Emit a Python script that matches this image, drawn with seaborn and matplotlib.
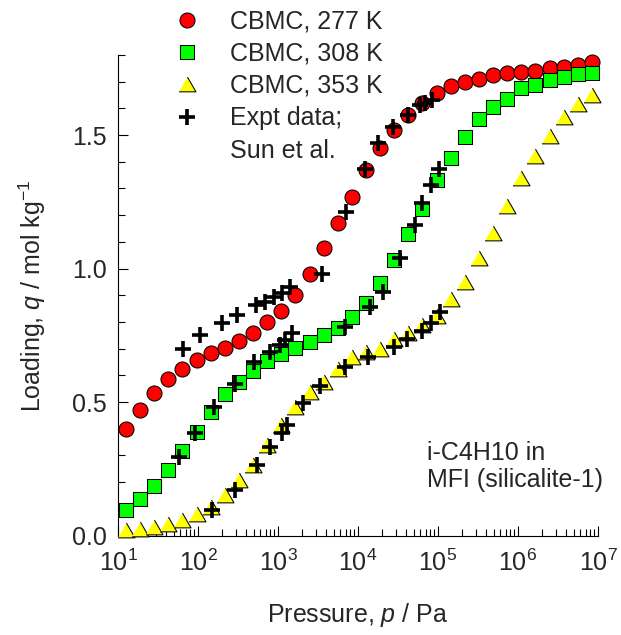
import matplotlib
matplotlib.use("Agg")
import matplotlib.pyplot as plt
from matplotlib.lines import Line2D
from matplotlib.ticker import LogLocator, MultipleLocator, FormatStrFormatter, NullFormatter
import pandas as pd
import seaborn as sns

# CBMC simulation pressures (Pa), shared by all three temperatures
pressure_cbmc = [12.6, 18.9, 28.4, 42.6, 64.0, 96.0, 144, 217, 325, 488, 733,
                 1100, 1650, 2480, 3720, 5590, 8400, 12600, 18900, 28400,
                 42700, 64000, 96200, 144000, 217000, 325000, 489000, 734000,
                 1.10e6, 1.65e6, 2.48e6, 3.73e6, 5.60e6, 8.40e6]

# CBMC loadings (mol/kg)
q_277 = [0.400, 0.472, 0.533, 0.585, 0.622, 0.656, 0.682, 0.704, 0.727, 0.760,
         0.799, 0.842, 0.902, 0.980, 1.077, 1.170, 1.268, 1.369, 1.450, 1.519,
         1.575, 1.619, 1.658, 1.685, 1.700, 1.710, 1.725, 1.731, 1.737, 1.741,
         1.750, 1.756, 1.762, 1.775]
q_308 = [0.096, 0.137, 0.185, 0.245, 0.317, 0.389, 0.463, 0.530, 0.576, 0.618,
         0.653, 0.679, 0.704, 0.723, 0.751, 0.776, 0.819, 0.870, 0.945, 1.032,
         1.129, 1.224, 1.331, 1.414, 1.494, 1.560, 1.606, 1.637, 1.675, 1.687,
         1.706, 1.718, 1.727, 1.731]
q_353 = [0.020, 0.025, 0.031, 0.044, 0.059, 0.079, 0.108, 0.152, 0.207, 0.265,
         0.339, 0.414, 0.482, 0.539, 0.576, 0.625, 0.670, 0.688, 0.700, 0.735,
         0.757, 0.788, 0.823, 0.886, 0.948, 1.038, 1.135, 1.235, 1.338, 1.421,
         1.497, 1.566, 1.616, 1.650]

# Experimental isotherms (Sun et al.)
p_expt_277 = [65.5, 106, 201, 305, 531, 688, 891, 1112, 1413, 3518, 7080,
              12235, 17940, 27620, 42540, 59570, 68790, 83370]
q_expt_277 = [0.697, 0.751, 0.795, 0.826, 0.863, 0.876, 0.892, 0.909, 0.932,
              0.979, 1.210, 1.372, 1.469, 1.531, 1.575, 1.612, 1.619, 1.631]
p_expt_308 = [58.7, 91, 159, 288, 501, 794, 1059, 1223, 1484, 6880, 14130,
              20710, 33500, 51170, 64000, 82450, 102300]
q_expt_308 = [0.295, 0.383, 0.480, 0.568, 0.651, 0.688, 0.713, 0.732, 0.757,
              0.782, 0.857, 0.913, 1.038, 1.163, 1.244, 1.313, 1.372]
p_expt_353 = [148, 290, 542, 794, 1112, 1285, 2072, 3350, 6880, 13450, 28180,
              40970, 64000, 82450, 105900]
q_expt_353 = [0.097, 0.170, 0.264, 0.333, 0.383, 0.414, 0.495, 0.560, 0.630,
              0.670, 0.705, 0.735, 0.767, 0.797, 0.838]

legend_labels = ["CBMC, 277 K", "CBMC, 308 K", "CBMC, 353 K", "Expt data;", "Sun et al."]

sns.set_style("ticks")
plt.rcParams["font.family"] = ["Liberation Sans", "DejaVu Sans"]
plt.rcParams["mathtext.fontset"] = "custom"
plt.rcParams["mathtext.rm"] = "Liberation Sans"
plt.rcParams["mathtext.it"] = "Liberation Sans:italic"
plt.rcParams["mathtext.bf"] = "Liberation Sans:bold"

FS = 18
TRI = [(-1, -0.866), (1, -0.866), (0, 0.866)]

fig = plt.figure(figsize=(6.21, 6.35), dpi=100)
ax = fig.add_axes([118 / 621, 99.5 / 635, 480 / 621, 480.5 / 635])

sim = {
    "277": pd.DataFrame({"p": pressure_cbmc, "q": q_277}),
    "308": pd.DataFrame({"p": pressure_cbmc, "q": q_308}),
    "353": pd.DataFrame({"p": pressure_cbmc, "q": q_353}),
}
expt = pd.concat([
    pd.DataFrame({"p": p_expt_277, "q": q_expt_277}),
    pd.DataFrame({"p": p_expt_308, "q": q_expt_308}),
    pd.DataFrame({"p": p_expt_353, "q": q_expt_353}),
], ignore_index=True)

edge = dict(edgecolor="black", linewidth=0.75, clip_on=False, legend=False)
sns.scatterplot(data=sim["277"], x="p", y="q", ax=ax, marker="o", s=117,
                color="#ff0000", zorder=3, **edge)
sns.scatterplot(data=sim["308"], x="p", y="q", ax=ax, marker="s", s=100,
                color="#00ff00", zorder=3, **edge)
sns.scatterplot(data=sim["353"], x="p", y="q", ax=ax, marker=TRI, s=150,
                color="#ffff00", zorder=3, **edge)
sns.scatterplot(data=expt, x="p", y="q", ax=ax, marker="+", s=125,
                color="black", edgecolor="black", linewidth=2.6, zorder=4,
                clip_on=False, legend=False)

ax.set_xscale("log")
ax.set_xlim(10, 1e7)
ax.set_ylim(0, 1.8)

ax.xaxis.set_major_locator(LogLocator(base=10, numticks=10))
ax.xaxis.set_minor_locator(LogLocator(base=10, subs=range(2, 10), numticks=100))
ax.xaxis.set_minor_formatter(NullFormatter())
ax.yaxis.set_major_locator(MultipleLocator(0.5))
ax.yaxis.set_minor_locator(MultipleLocator(0.1))
ax.yaxis.set_major_formatter(FormatStrFormatter("%.1f"))

ax.tick_params(which="both", direction="in", color="black", width=0.8)
ax.tick_params(which="major", length=7.2, labelsize=FS)
ax.tick_params(which="minor", length=5.0)
ax.tick_params(axis="x", which="major", pad=10)
ax.tick_params(axis="y", which="major", pad=8)

for side in ("left", "bottom"):
    ax.spines[side].set_linewidth(0.8)
    ax.spines[side].set_color("black")
sns.despine(ax=ax)

ax.set_xlabel("Pressure, $p$ / Pa", fontsize=FS)
ax.set_ylabel("Loading, $q$ / mol kg$^{-1}$", fontsize=FS)
ax.xaxis.set_label_coords(0.5, (535.5 - 615) / 480.5)
ax.xaxis.label.set_va("center")
ax.yaxis.set_label_coords((32 - 118) / 480, 0.5)
ax.yaxis.label.set_va("center")

ax.text((426.7 - 118) / 480, (535.5 - 466.5) / 480.5,
        "i-C4H10 in\nMFI (silicalite-1)", transform=ax.transAxes,
        ha="left", va="center", fontsize=FS, linespacing=1.15)

handles = [
    Line2D([], [], ls="none", marker="o", ms=10.8, mfc="#ff0000", mec="black", mew=0.75),
    Line2D([], [], ls="none", marker="s", ms=10.0, mfc="#00ff00", mec="black", mew=0.75),
    Line2D([], [], ls="none", marker=TRI, ms=12.2, mfc="#ffff00", mec="black", mew=0.75),
    Line2D([], [], ls="none", marker="+", ms=11.2, color="black", mew=2.6),
    Line2D([], [], ls="none", marker=None),
]
ax.legend(handles, legend_labels, loc="upper left",
          bbox_to_anchor=(174 / 621, 1 - 9.5 / 635), bbox_transform=fig.transFigure,
          frameon=False, fontsize=FS, handlelength=1.0, handletextpad=1.24,
          labelspacing=0.33, borderpad=0, borderaxespad=0)

fig.savefig("out.png", dpi=100)
